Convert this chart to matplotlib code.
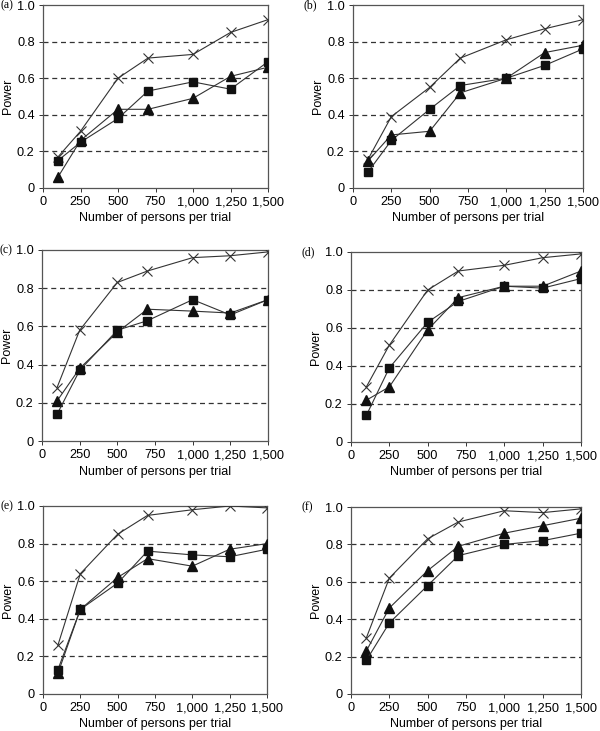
import numpy as np
import matplotlib.pyplot as plt
from matplotlib.ticker import FuncFormatter

plt.rcParams["font.family"] = ["Liberation Sans", "DejaVu Sans"]

# Sample sizes (persons per trial)
n_persons = [100, 250, 500, 700, 1000, 1250, 1500]
panel_labels = ["(a)", "(b)", "(c)", "(d)", "(e)", "(f)"]

# Power per panel: cross, square, triangle series
cross_a = [0.17, 0.31, 0.60, 0.71, 0.73, 0.85, 0.92]
square_a = [0.15, 0.25, 0.38, 0.53, 0.58, 0.54, 0.69]
tri_a = [0.06, 0.26, 0.43, 0.43, 0.49, 0.61, 0.66]

cross_b = [0.16, 0.39, 0.55, 0.71, 0.81, 0.87, 0.92]
square_b = [0.09, 0.26, 0.43, 0.56, 0.60, 0.67, 0.76]
tri_b = [0.15, 0.29, 0.31, 0.52, 0.60, 0.74, 0.78]

cross_c = [0.28, 0.58, 0.83, 0.89, 0.96, 0.97, 0.99]
square_c = [0.14, 0.37, 0.58, 0.63, 0.74, 0.66, 0.74]
tri_c = [0.21, 0.38, 0.57, 0.69, 0.68, 0.67, 0.74]

cross_d = [0.29, 0.51, 0.80, 0.90, 0.93, 0.97, 0.99]
square_d = [0.14, 0.39, 0.63, 0.74, 0.82, 0.81, 0.86]
tri_d = [0.22, 0.29, 0.59, 0.76, 0.82, 0.82, 0.90]

cross_e = [0.26, 0.64, 0.85, 0.95, 0.98, 1.00, 0.99]
square_e = [0.13, 0.45, 0.59, 0.76, 0.74, 0.73, 0.77]
tri_e = [0.11, 0.45, 0.62, 0.72, 0.68, 0.77, 0.80]

cross_f = [0.30, 0.62, 0.83, 0.92, 0.98, 0.97, 0.99]
square_f = [0.18, 0.38, 0.58, 0.74, 0.80, 0.82, 0.86]
tri_f = [0.23, 0.46, 0.66, 0.79, 0.86, 0.90, 0.94]

panels = [
    (cross_a, square_a, tri_a),
    (cross_b, square_b, tri_b),
    (cross_c, square_c, tri_c),
    (cross_d, square_d, tri_d),
    (cross_e, square_e, tri_e),
    (cross_f, square_f, tri_f),
]

W, H = 600, 731
fig = plt.figure(figsize=(W / 100, H / 100), dpi=100)

# axes boxes in pixels: left, top, right, bottom
boxes = [
    (43, 5, 268, 188),
    (353, 5, 583, 188),
    (42, 250, 268, 441),
    (351, 252, 581, 442),
    (43, 506, 267, 694),
    (351, 507, 581, 694),
]

for i, (cr, sq, tr) in enumerate(panels):
    l, t, r, b = boxes[i]
    ax = fig.add_axes([l / W, 1 - b / H, (r - l) / W, (b - t) / H])
    for y in [0.2, 0.4, 0.6, 0.8]:
        ax.axhline(y, color="#333333", lw=0.9, ls=(0, (4, 3)), zorder=0)
    ax.plot(n_persons, cr, color="#333333", lw=0.8, marker="x", ms=7, mew=0.8, zorder=3)
    ax.plot(n_persons, tr, color="#333333", lw=0.8, marker="^", ms=6.5,
            mfc="#111111", mec="#111111", zorder=4)
    ax.plot(n_persons, sq, color="#333333", lw=0.8, marker="s", ms=6,
            mfc="#111111", mec="#111111", zorder=5)
    ax.set_xlim(0, 1500)
    ax.set_ylim(0, 1.0)
    ax.set_xticks([0, 250, 500, 750, 1000, 1250, 1500])
    ax.xaxis.set_major_formatter(FuncFormatter(lambda v, p: f"{int(v):,}"))
    ax.set_yticks([0, 0.2, 0.4, 0.6, 0.8, 1.0])
    ax.set_yticklabels(["0", "0.2", "0.4", "0.6", "0.8", "1.0"])
    ax.tick_params(labelsize=9.2, length=3, width=0.7, color="#333333", pad=3)
    for s in ax.spines.values():
        s.set_color("#555555")
        s.set_linewidth(0.9)
    ax.set_xlabel("Number of persons per trial", fontsize=9, labelpad=3)
    ax.set_ylabel("Power", fontsize=9, labelpad=2)
    ax.text(-0.19 if i % 2 == 0 else -0.215, 1.0, panel_labels[i], transform=ax.transAxes,
            fontsize=8.5, family="Liberation Serif", va="center", ha="left")

fig.savefig("out.png", dpi=100)
